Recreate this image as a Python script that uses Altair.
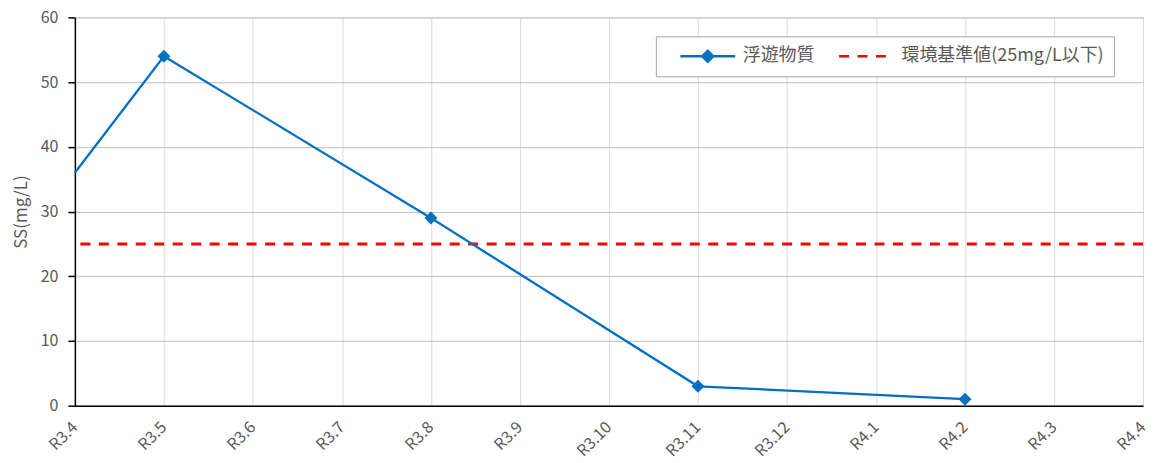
import altair as alt
import pandas as pd

# ---- data ----
months = ["R3.4", "R3.5", "R3.6", "R3.7", "R3.8", "R3.9", "R3.10",
          "R3.11", "R3.12", "R4.1", "R4.2", "R4.3", "R4.4"]
ss_months = ["R3.4", "R3.5", "R3.8", "R3.11", "R4.2"]
ss_values = [36, 54, 29, 3, 1]
ss_marked = [False, True, True, True, True]
series_names = ["浮遊物質", "環境基準値(25mg/L以下)"]
standard_value = [25]
y_ticks = [0, 10, 20, 30, 40, 50, 60]

FONT = "Noto Sans CJK JP"
BLUE = "#0070C0"
RED = "#FF0000"
GREY_TXT = "#595959"

ss_df = pd.DataFrame({
    "month": ss_months,
    "ss": ss_values,
    "marked": ss_marked,
    "series": [series_names[0]] * len(ss_months),
    "order": list(range(len(ss_months))),
})
std_df = pd.DataFrame({"ss": standard_value, "series": [series_names[1]]})

diamond_line = "M-1,0H1M0,-0.2L0.2,0L0,0.2L-0.2,0Z"

stroke_scale = alt.Scale(domain=series_names, range=[BLUE, RED])
shape_scale = alt.Scale(domain=series_names, range=[diamond_line, "stroke"])
dash_scale = alt.Scale(domain=series_names, range=[[1, 0], [10, 8.5]])

legend = alt.Legend(
    title=None, orient="none", legendX=582, legendY=19, direction="horizontal",
    fillColor="white", strokeColor="#a6a6a6", padding=10,
    labelFont=FONT, labelFontSize=18, labelColor=GREY_TXT, labelLimit=400,
    symbolSize=3025, symbolStrokeWidth=2.5, symbolFillColor=BLUE,
    symbolOffset=13, labelOffset=6, columnPadding=10, clipHeight=20,
)

x = alt.X(
    "month:N", sort=months,
    scale=alt.Scale(type="point", domain=months, padding=0),
    axis=alt.Axis(title=None, labelAngle=-45, grid=True, gridColor="#d9d9d9",
                  ticks=False, domainColor="black", domainWidth=1.5,
                  labelFont=FONT, labelFontSize=16, labelColor=GREY_TXT,
                  labelPadding=13, labelOffset=-6),
)
y = alt.Y(
    "ss:Q", scale=alt.Scale(domain=[0, 60], nice=False),
    axis=alt.Axis(title="SS(mg/L)", values=y_ticks, grid=True, gridColor="#bfbfbf",
                  domainColor="black", domainWidth=1.5, tickColor="black",
                  tickSize=7, tickWidth=1.5, labelFont=FONT, labelFontSize=16,
                  labelColor=GREY_TXT, labelPadding=10, titleFont=FONT,
                  titleFontSize=17, titleFontWeight="normal", titleColor=GREY_TXT,
                  titlePadding=10),
)

line = alt.Chart(ss_df).mark_line(strokeWidth=2.25).encode(
    x=x, y=y,
    stroke=alt.Stroke("series:N", scale=stroke_scale, legend=legend),
    order=alt.Order("order:Q"),
)
points = alt.Chart(ss_df).transform_filter("datum.marked").mark_point(
    filled=True, opacity=1, size=4200, color=BLUE, strokeWidth=0
).encode(
    x=x, y=y,
    shape=alt.Shape("series:N", scale=shape_scale, legend=legend),
)
rule = alt.Chart(std_df).mark_rule(strokeWidth=3).encode(
    y=y,
    stroke=alt.Stroke("series:N", scale=stroke_scale, legend=legend),
    strokeDash=alt.StrokeDash("series:N", scale=dash_scale, legend=legend),
)

chart = alt.layer(rule, line, points).properties(
    width=1070, height=389,
    padding={"left": 4, "top": 1, "right": 0, "bottom": 0},
).configure_view(stroke="black", strokeWidth=1.5).configure(background="white")

chart.save("out.html", embed_options={"renderer": "svg", "actions": False})
